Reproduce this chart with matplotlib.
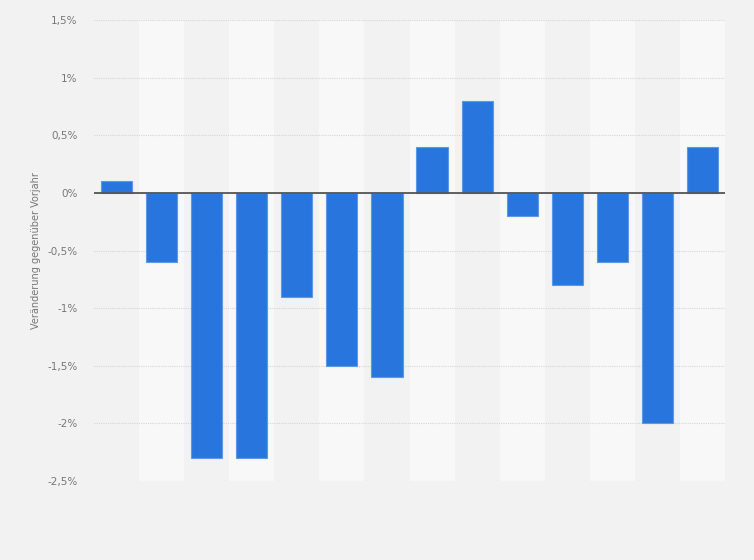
import matplotlib.pyplot as plt
from matplotlib.ticker import FuncFormatter

# Veränderung gegenüber Vorjahr (%), 14 Perioden, keine Achsenbeschriftung sichtbar
werte = [0.1, -0.6, -2.3, -2.3, -0.9, -1.5, -1.6, 0.4, 0.8, -0.2, -0.8, -0.6, -2.0, 0.4]
y_ticks = [-2.5, -2.0, -1.5, -1.0, -0.5, 0.0, 0.5, 1.0, 1.5]
y_label = "Veränderung gegenüber Vorjahr"

bg = "#f2f2f2"
band = "#f8f8f8"
blue = "#2876dd"

fig = plt.figure(figsize=(7.54, 5.6), dpi=100, facecolor=bg)
ax = fig.add_axes([94/754, 1-481/560, (725-94)/754, (481-20)/560])
ax.set_facecolor(bg)

n = len(werte)
x = list(range(n))

# alternating column bands
for i in x:
    if i % 2 == 1:
        ax.axvspan(i-0.5, i+0.5, color=band, zorder=0, lw=0)

ax.bar(x, werte, width=0.69, color=blue, edgecolor="#5b98e6", linewidth=0.8, zorder=3)
ax.axhline(0, color="#555555", lw=1.3, zorder=4)

ax.set_xlim(-0.5, n-0.5)
ax.set_ylim(-2.5, 1.5)
ax.set_yticks(y_ticks)

def fmt(v, pos):
    s = ("%g" % v).replace(".", ",")
    return s + "%"

ax.yaxis.set_major_formatter(FuncFormatter(fmt))
ax.grid(axis="y", color="#d6d6d6", linestyle=(0, (1, 1)), lw=0.8, zorder=1)
ax.set_xticks([])
ax.tick_params(axis="y", length=0, pad=12, labelsize=7.5, labelcolor="#777777")
for s in ax.spines.values():
    s.set_visible(False)

ax.set_ylabel(y_label, fontsize=7, color="#777777")
ax.yaxis.set_label_coords(-53/631, 0.5)

fig.savefig("out.png", dpi=100, facecolor=bg)
